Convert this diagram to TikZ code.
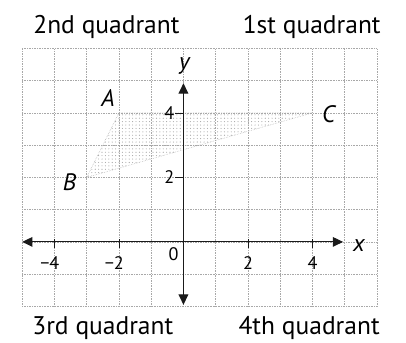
\documentclass[tikz,border=0pt]{standalone}
\usepackage{fontspec}
\setmainfont{PT Sans}
\usepackage{xcolor}
\usepackage{tikz}
\usetikzlibrary{arrows.meta,patterns}
\definecolor{gridc}{HTML}{A8A8A8}
\definecolor{axc}{HTML}{1A1A1A}
\tikzset{
  ax/.style={{Triangle[length=3.2mm,width=3mm]}-{Triangle[length=3.2mm,width=3mm]},line width=0.9pt,axc},
  gr/.style={gridc,densely dotted,line width=0.45pt},
  lbl/.style={font=\fontsize{21}{24}\selectfont\itshape,inner sep=0pt},
  num/.style={font=\fontsize{16}{18}\selectfont,inner sep=0pt},
  quad/.style={font=\fontsize{22.5}{26}\selectfont,inner sep=0pt}
}
\begin{document}
\begin{tikzpicture}
\useasboundingbox (-5.6875,-3.125) rectangle (6.9,7.5);
\draw[gr] (-5,-2) grid (6,6);
\coordinate (A) at (-2,4); \coordinate (B) at (-3,2); \coordinate (C) at (4,4);
\fill[pattern=dots,pattern color=gray!70] (A)--(B)--(C)--cycle;
\draw[gr] (A)--(B)--(C)--cycle;
\coordinate (xl) at (-5,0); \coordinate (xr) at (4.95,0);
\coordinate (yb) at (0,-1.95); \coordinate (yt) at (0,4.92);
\draw[ax] (xl)--(xr);
\draw[ax] (yb)--(yt);
\foreach \k in {-4,-2,2,4}{\draw[axc,line width=0.6pt] (\k,0.08)--(\k,-0.2);}
\foreach \k in {2,4}{\draw[axc,line width=0.6pt] (-0.25,\k)--(0,\k);
 \node[num] (ly\k) at (-0.44,\k) {\k};}
\foreach \k in {2,4}{\node[num] (lx\k) at (\k,-0.66) {\k};}
\foreach \k in {-4,-2}{\node[num] (lx\k) at (\k,-0.66) {\llap{−}\the\numexpr-\k\relax};}
\node[num] (o) at (-0.31,-0.39) {0};
% points and axis names
\node[lbl] (nA) at (-2.34,4.45) {A};
\node[lbl] (nB) at (-3.53,1.84) {B};
\node[lbl] (nC) at (4.5,3.97) {C};
\node[lbl] (nx) at (5.44,-0.1) {x};
\node[lbl] (ny) at (0.03,5.44) {y};
% quadrants
\node[quad,anchor=base west] (q2) at (-4.66,6.47) {2nd quadrant};
\node[quad,anchor=base east] (q1) at (6.12,6.47) {1st quadrant};
\node[quad,anchor=base west] (q3) at (-4.69,-2.875) {3rd quadrant};
\node[quad,anchor=base east] (q4) at (6.09,-2.875) {4th quadrant};
\end{tikzpicture}
\end{document}
